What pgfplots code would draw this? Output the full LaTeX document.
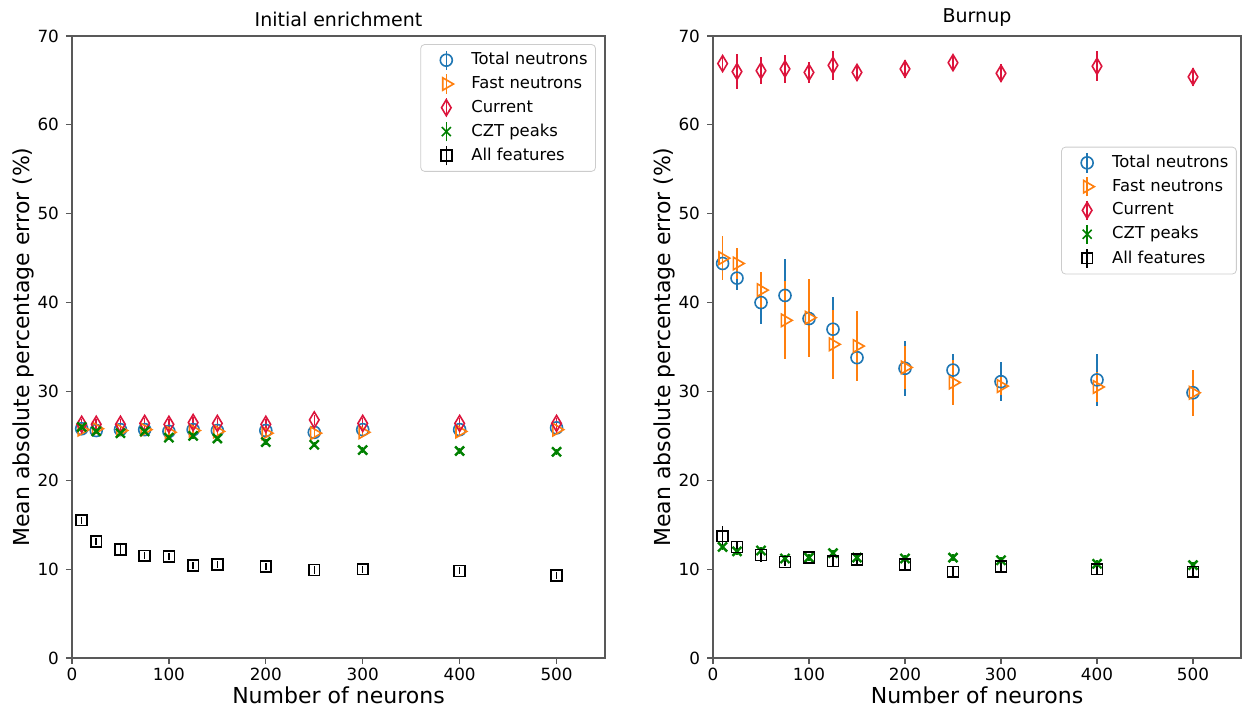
\documentclass[border=0pt]{standalone}
\usepackage{fontspec}
\setmainfont{DejaVu Sans}
\usepackage{pgfplots}
\pgfplotsset{compat=1.18}
\usepackage{pgfplotstable}

\definecolor{mblue}{HTML}{1F77B4}
\definecolor{morange}{HTML}{FF7F0E}
\definecolor{mred}{HTML}{DC143C}
\definecolor{mgreen}{HTML}{008000}

\pgfplotstableread{
x   t     te   f     fe   c     ce   z     ze   a     ae
10  25.8  0.4  25.7  0.4  26.3  0.6  26.0  0.3  15.5  0.4
25  25.6  0.4  25.8  0.4  26.3  0.6  25.5  0.3  13.1  0.4
50  25.7  0.4  25.6  0.4  26.3  0.6  25.3  0.3  12.2  0.5
75  25.7  0.4  25.7  0.4  26.4  0.6  25.5  0.3  11.5  0.4
100 25.5  0.4  25.4  0.4  26.3  0.6  24.8  0.3  11.4  0.4
125 25.7  0.4  25.6  0.4  26.5  0.6  25.0  0.3  10.4  0.4
150 25.6  0.4  25.5  0.4  26.4  0.6  24.7  0.3  10.5  0.4
200 25.6  0.4  25.3  0.4  26.3  0.6  24.3  0.3  10.3  0.4
250 25.4  0.4  25.3  0.4  26.8  0.6  24.0  0.3   9.9  0.4
300 25.7  0.4  25.4  0.4  26.4  0.6  23.4  0.3  10.0  0.4
400 25.7  0.4  25.5  0.4  26.4  0.6  23.3  0.3   9.8  0.4
500 25.9  0.4  25.7  0.4  26.4  0.6  23.2  0.3   9.3  0.4
}\leftdata

\pgfplotstableread{
x   t     te   f     fe   c     ce   z     ze   a     ae
10  44.4  1.2  45.0  2.5  66.9  1.0  12.5  0.4  13.7  1.1
25  42.75 1.3  44.4  1.7  66.0  2.0  12.0  0.4  12.5  0.5
50  40.0  2.4  41.4  2.0  66.1  1.5  12.1  0.4  11.6  0.8
75  40.8  4.1  38.0  4.4  66.3  1.6  11.2  0.4  10.8  0.5
100 38.2  1.0  38.3  4.4  65.9  1.2  11.3  0.4  11.3  0.3
125 37.0  3.6  35.3  3.9  66.7  1.6  11.8  0.4  10.9  0.5
150 33.8  1.0  35.1  3.9  65.9  1.0  11.3  0.4  11.1  0.5
200 32.6  3.1  32.7  2.4  66.3  1.0  11.2  0.4  10.5  0.5
250 32.4  1.8  31.0  2.5  67.0  0.9  11.3  0.4   9.7  0.5
300 31.1  2.2  30.6  1.0  65.8  1.0  11.0  0.4  10.3  0.5
400 31.3  2.9  30.5  1.7  66.6  1.7  10.6  0.4  10.0  0.5
500 29.85 0.5  29.85 2.6  65.4  1.0  10.45 0.4   9.7  0.5
}\rightdata

\pgfplotsset{
  ebleg/.style 2 args={legend image code/.code={
      \path[draw=none,fill=none] (0cm,-0.1cm) rectangle (0.75cm,0.1cm);
      \draw[#1,line width=0.75pt,mark=none] (0.38cm,-0.17cm)--(0.38cm,0.17cm);
      \draw[#1,line width=0.8pt] plot[only marks,#2] coordinates {(0.38cm,0cm)};}},
  myax/.style={
    scale only axis,
    height=311pt,
    xmin=0, xmax=550, ymin=0, ymax=70,
    xtick={0,100,...,500}, ytick={0,10,...,70},
    tick pos=left, tick align=outside,
    major tick length=3pt,
    axis line style={black!65, line width=0.6pt},
    every tick/.style={black!65, line width=0.6pt},
    tick label style={font=\fontsize{8.4}{10}\selectfont},
    xticklabel style={yshift=1.5pt},
    /pgf/number format/assume math mode=true,
    label style={font=\fontsize{11}{13}\selectfont},
    xlabel style={yshift=4pt},
    ylabel style={yshift=-5pt},
    title style={font=\fontsize{9.5}{11}\selectfont, yshift=-5pt},
    xlabel={Number of neurons},
    ylabel={Mean absolute percentage error (\%)},
    legend cell align=left,
    legend style={draw=black!20, rounded corners=2pt, fill=white,
      font=\fontsize{8.2}{9}\selectfont, row sep=0.3pt, inner sep=2pt},
  },
  pT/.style={mblue, only marks, mark=o, mark size=3pt, line width=0.8pt,
     error bars/.cd, y dir=both, y explicit, error mark=none,
     error bar style={line width=0.75pt}},
  pF/.style={morange, only marks, mark=triangle, mark size=3.6pt, line width=0.8pt,
     mark options={rotate=-90},
     error bars/.cd, y dir=both, y explicit, error mark=none,
     error bar style={line width=0.75pt}},
  pC/.style={mred, only marks, mark=diamond, mark size=4pt, line width=0.8pt,
     mark options={xscale=0.8},
     error bars/.cd, y dir=both, y explicit, error mark=none,
     error bar style={line width=0.75pt}},
  pZ/.style={mgreen, only marks, mark=x, mark size=3.2pt, line width=1.2pt,
     error bars/.cd, y dir=both, y explicit, error mark=none,
     error bar style={line width=0.75pt}},
  pA/.style={black, only marks, mark=square, mark size=2.7pt, line width=0.8pt,
     error bars/.cd, y dir=both, y explicit, error mark=none,
     error bar style={line width=0.75pt}},
  lT/.style={ebleg={mblue}{mark=o,mark size=3pt}},
  lF/.style={ebleg={morange}{mark=triangle,mark size=3.6pt,mark options={rotate=-90}}},
  lC/.style={ebleg={mred}{mark=diamond,mark size=4pt,mark options={xscale=0.8}}},
  lZ/.style={ebleg={mgreen}{mark=x,mark size=3.2pt,line width=1.2pt}},
  lA/.style={ebleg={black}{mark=square,mark size=2.7pt}},
}

\newcommand{\legimages}{%
  \addlegendimage{lT}\addlegendentry{Total neutrons}
  \addlegendimage{lF}\addlegendentry{Fast neutrons}
  \addlegendimage{lC}\addlegendentry{Current}
  \addlegendimage{lZ}\addlegendentry{CZT peaks}
  \addlegendimage{lA}\addlegendentry{All features}
}

\begin{document}
\begin{tikzpicture}
\begin{axis}[myax, width=266.5pt, at={(0pt,0pt)}, anchor=south west,
  title={Initial enrichment},
  legend style={at={(0.983,0.987)}, anchor=north east}]
\legimages
\addplot[forget plot, pT] table[x=x, y=t, y error=te] {\leftdata};
\addplot[forget plot, pF] table[x=x, y=f, y error=fe] {\leftdata};
\addplot[forget plot, pC] table[x=x, y=c, y error=ce] {\leftdata};
\addplot[forget plot, pZ] table[x=x, y=z, y error=ze] {\leftdata};
\addplot[forget plot, pA] table[x=x, y=a, y error=ae] {\leftdata};
\end{axis}
\begin{axis}[myax, width=264pt, at={(320.5pt,0pt)}, anchor=south west,
  title={Burnup},
  legend style={at={(0.992,0.822)}, anchor=north east}]
\legimages
\addplot[forget plot, pT] table[x=x, y=t, y error=te] {\rightdata};
\addplot[forget plot, pF] table[x=x, y=f, y error=fe] {\rightdata};
\addplot[forget plot, pC] table[x=x, y=c, y error=ce] {\rightdata};
\addplot[forget plot, pZ] table[x=x, y=z, y error=ze] {\rightdata};
\addplot[forget plot, pA] table[x=x, y=a, y error=ae] {\rightdata};
\end{axis}
\pgfresetboundingbox
\useasboundingbox (-36pt,-28.5pt) rectangle (585pt,329pt);
\end{tikzpicture}
\end{document}
